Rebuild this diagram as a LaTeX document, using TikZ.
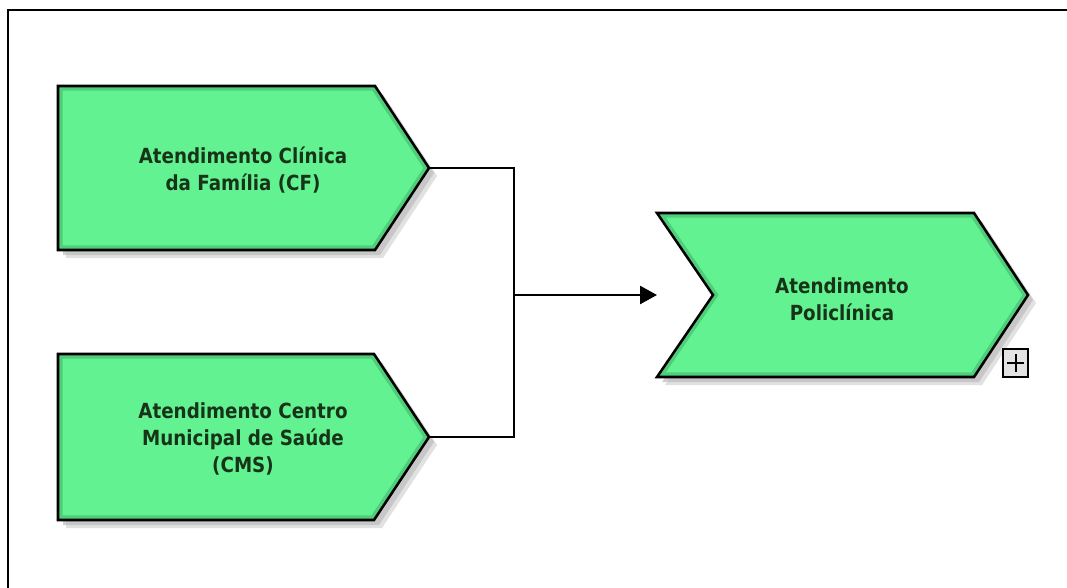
\documentclass[tikz,border=0pt]{standalone}
\usepackage{fontspec}
\setmainfont{DejaVu Sans}[FakeStretch=0.88]
\usetikzlibrary{arrows.meta}
\definecolor{boxfill}{HTML}{62F292}
\definecolor{boxglow}{HTML}{2E8A4E}
\definecolor{txtcol}{HTML}{183418}
\definecolor{shadowcol}{HTML}{BDBDBD}
\tikzset{
  boxtext/.style={text=txtcol, font=\fontsize{15.6}{20.25}\selectfont\bfseries, align=center},
  outline/.style={draw=black, line width=1.9pt, line join=miter},
  conn/.style={draw=black, line width=1.9pt},
}
\begin{document}
\begin{tikzpicture}[x=0.75pt,y=-0.75pt]
\useasboundingbox (0,0) rectangle (1067,588);
\fill[white] (0,0) rectangle (1067,588);
\draw[line width=2pt] (1067,10) -- (8,10) -- (8,588);

% shape paths
\def\cfpath{(58,86) -- (375,86) -- (429,168) -- (375,250) -- (58,250) -- cycle}
\def\cmspath{(58,354) -- (374,354) -- (429,437) -- (374,520) -- (58,520) -- cycle}
\def\polpath{(657,213) -- (974,213) -- (1028,295) -- (974,377) -- (657,377) -- (713,295) -- cycle}

% shadows
\foreach \p in {\cfpath,\cmspath,\polpath}{
  \fill[shadowcol, opacity=0.45, shift={(8,8)}] \p;
  \fill[shadowcol, opacity=0.7, shift={(5,5)}] \p;
}
% bodies
\foreach \p in {\cfpath,\cmspath,\polpath}{
  \fill[boxfill] \p;
  \begin{scope}
    \clip \p;
    \draw[boxglow, line width=7pt, opacity=0.35] \p;
  \end{scope}
  \draw[outline] \p;
}

% labels
\node[boxtext] (cf) at (243,170) {Atendimento Clínica\\da Família (CF)};
\node[boxtext] (cms) at (243,439) {Atendimento Centro\\Municipal de Saúde\\(CMS)};
\node[boxtext] (pol) at (842,299) {Atendimento\\Policlínica};

% connection points
\coordinate (cfout) at (429,168);
\coordinate (cmsout) at (429,437);
\coordinate (join) at (514,295);
\coordinate (polin) at (657,295);

\draw[conn] (cfout) -| (join);
\draw[conn] (cmsout) -| (join);
\draw[conn, -{Triangle[length=12.75pt,width=13.5pt]}] (join) -- (polin);

% expand marker
\node[draw=black, fill=gray!22, line width=1.4pt, minimum width=19pt, minimum height=21pt, inner sep=0pt, anchor=north west] (plus) at (1002,348) {};
\draw[line width=1.5pt] ([xshift=-6.5pt]plus.center) -- ([xshift=6.5pt]plus.center);
\draw[line width=1.5pt] ([yshift=-7pt]plus.center) -- ([yshift=7pt]plus.center);
\end{tikzpicture}
\end{document}
